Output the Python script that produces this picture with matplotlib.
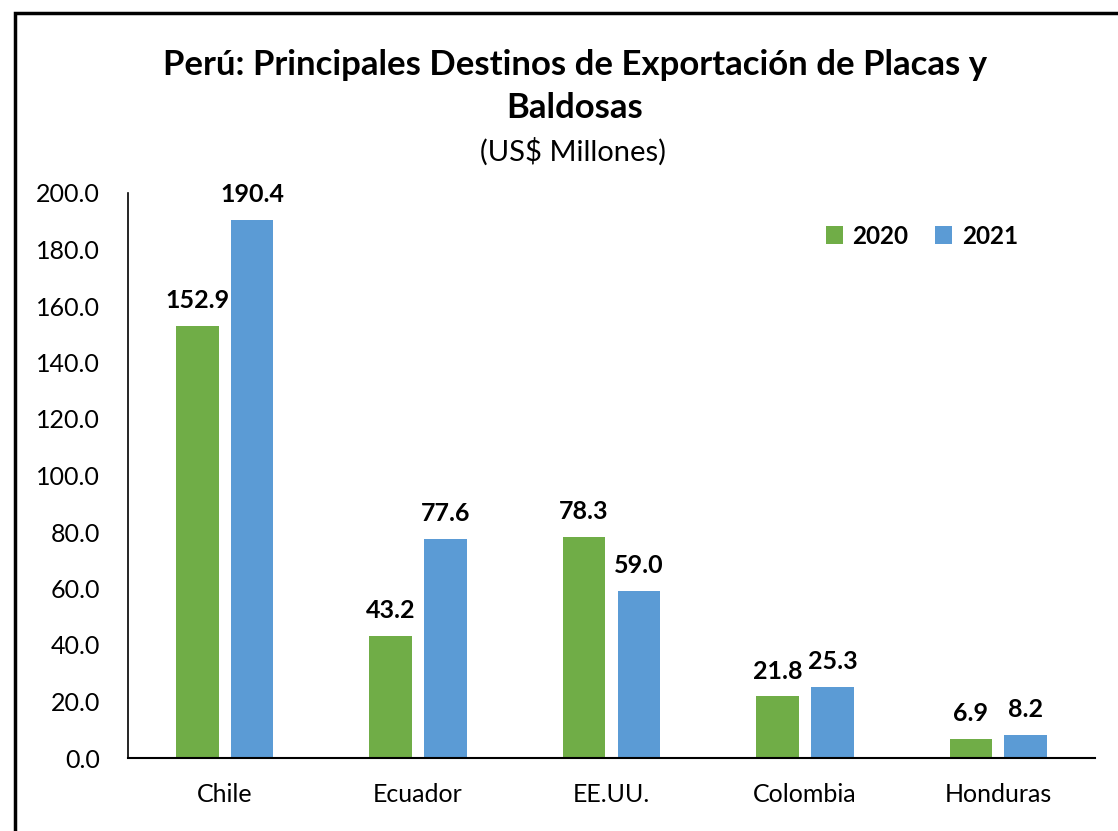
import matplotlib.pyplot as plt
import matplotlib.patches as mpatches
import numpy as np

plt.rcParams['font.family'] = ['Lato', 'DejaVu Sans']

countries = ['Chile', 'Ecuador', 'EE.UU.', 'Colombia', 'Honduras']
vals_2020 = [152.9, 43.2, 78.3, 21.8, 6.9]
vals_2021 = [190.4, 77.6, 59.0, 25.3, 8.2]
years = ['2020', '2021']

green = '#70AD47'
blue = '#5B9BD5'

fig = plt.figure(figsize=(11.18, 8.31), dpi=100)
ax = fig.add_axes([128/1118, 1 - 758/831, (1095-128)/1118, (758-193)/831])

x = np.arange(len(countries))
width = 0.22
off = 0.142
r1 = ax.bar(x - off, vals_2020, width, color=green, label=years[0])
r2 = ax.bar(x + off, vals_2021, width, color=blue, label=years[1])

ax.set_xlim(-0.5, len(countries) - 0.5)
ax.set_ylim(0, 200)
ax.set_yticks(np.arange(0, 201, 20))
ax.set_yticklabels(['%.1f' % v for v in np.arange(0, 201, 20)])
ax.set_xticks(x)
ax.set_xticklabels(countries)
ax.tick_params(axis='y', length=0, pad=20, labelsize=18)
ax.tick_params(axis='x', length=0, pad=18, labelsize=18)

for s in ['top', 'right']:
    ax.spines[s].set_visible(False)
ax.spines['left'].set_linewidth(1.2)
ax.spines['bottom'].set_linewidth(1.5)

for rects in (r1, r2):
    for rect in rects:
        h = rect.get_height()
        ax.annotate('%.1f' % h, (rect.get_x() + rect.get_width() / 2, h),
                    xytext=(0, 10), textcoords='offset points',
                    ha='center', va='bottom', fontsize=18, fontweight='bold')

ax.legend(loc='center', bbox_to_anchor=(922/1118, 1 - 236/831),
          bbox_transform=fig.transFigure, ncol=2, frameon=False,
          prop={'size': 17.5, 'weight': 'bold'}, handlelength=0.7, handleheight=0.7,
          handletextpad=0.4, columnspacing=1.1)

fig.text(575/1118, 1 - 65/831, 'Perú: Principales Destinos de Exportación de Placas y',
         ha='center', va='center', fontsize=25, fontweight='bold')
fig.text(575/1118, 1 - 108/831, 'Baldosas', ha='center', va='center',
         fontsize=25, fontweight='bold')
fig.text(573/1118, 1 - 152/831, '(US$ Millones)', ha='center', va='center', fontsize=21)

border = mpatches.Rectangle((15/1118, -0.05), 1.1, 1 - 13/831 + 0.05,
                            transform=fig.transFigure, fill=False,
                            edgecolor='black', linewidth=2.5, clip_on=False)
fig.patches.append(border)

fig.savefig('out.png', dpi=100)
